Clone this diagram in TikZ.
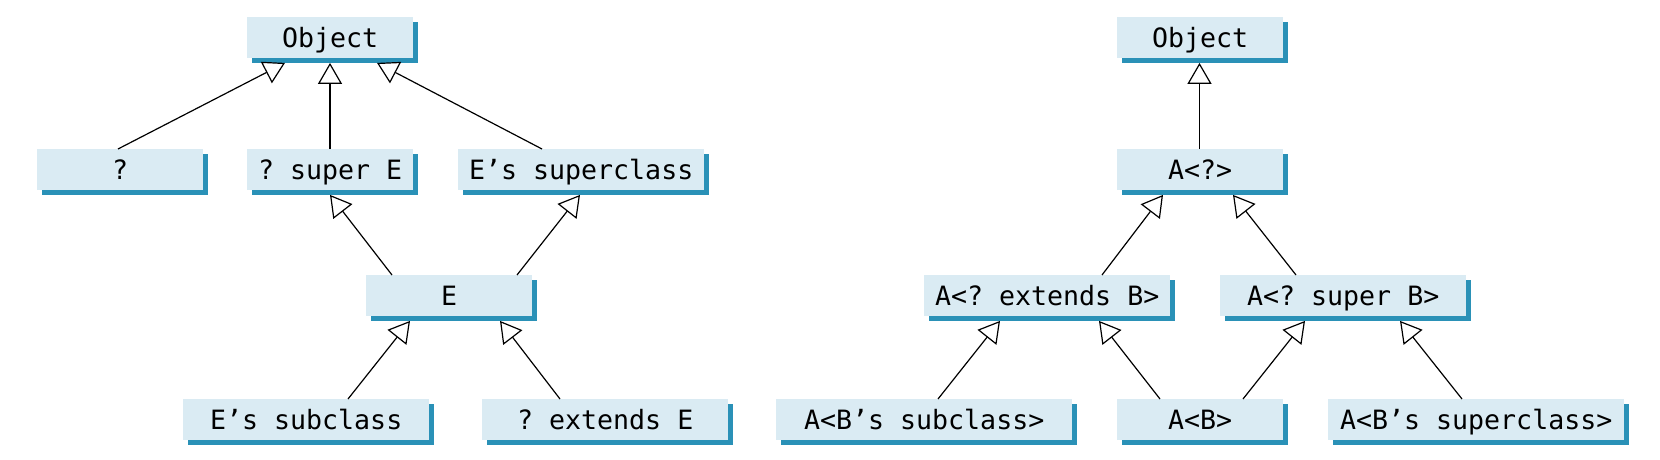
\documentclass[tikz,border=0pt]{standalone}
\usepackage{fontspec}
\setmonofont{DejaVu Sans Mono}
\usetikzlibrary{arrows.meta,shadows}
\definecolor{boxfill}{HTML}{DAEBF3}
\definecolor{shadowc}{HTML}{2A91B7}
\begin{document}
\begin{tikzpicture}[x=1pt,y=-1pt,
  cls/.style={anchor=north west, fill=boxfill, minimum height=41pt, inner sep=0pt,
    text height=20pt, text depth=0pt,
    font=\ttfamily\fontsize{26.6pt}{30pt}\selectfont,
    drop shadow={shadow xshift=4.5pt, shadow yshift=-4.5pt, fill=shadowc, opacity=1}},
  small/.style={cls, minimum width=166pt},
  mid/.style={cls, minimum width=246pt},
  wide/.style={cls, minimum width=296pt},
  inh/.style={draw=black, line width=1.2pt, -{Triangle[length=21pt, width=24pt, fill=white]}}
]
\useasboundingbox (0,0) rectangle (1660,460);
% left tree
\node[small] (objL) at (247,17) {Object};
\node[small] (q) at (37,149) {?};
\node[small] (qsup) at (247,149) {? super E};
\node[mid] (esup) at (458,149) {E’s superclass};
\node[small] (E) at (366,275) {E};
\node[mid] (esub) at (183,399) {E’s subclass};
\node[mid] (qext) at (482,399) {? extends E};
% right tree
\node[small] (objR) at (1117,17) {Object};
\node[small] (Aq) at (1117,149) {A<?>};
\node[mid] (Aext) at (924,275) {A<? extends B>};
\node[mid] (Asup) at (1220,275) {A<? super B>};
\node[wide] (Asub) at (776,399) {A<B’s subclass>};
\node[small] (AB) at (1117,399) {A<B>};
\node[wide] (Asuper) at (1328,399) {A<B’s superclass>};
% connectors left
\draw[inh] ([xshift=81pt]q.north west) -- ([xshift=38pt,yshift=-4.5pt]objL.south west);
\draw[inh] ([xshift=83pt]qsup.north west) -- ([xshift=83pt,yshift=-4.5pt]objL.south west);
\draw[inh] ([xshift=84pt]esup.north west) -- ([xshift=130pt,yshift=-4.5pt]objL.south west);
\draw[inh] ([xshift=26pt]E.north west) -- ([xshift=83pt,yshift=-4.5pt]qsup.south west);
\draw[inh] ([xshift=151pt]E.north west) -- ([xshift=122pt,yshift=-4.5pt]esup.south west);
\draw[inh] ([xshift=165pt]esub.north west) -- ([xshift=44pt,yshift=-4.5pt]E.south west);
\draw[inh] ([xshift=78pt]qext.north west) -- ([xshift=134pt,yshift=-4.5pt]E.south west);
% connectors right
\draw[inh] ([xshift=82.5pt]Aq.north west) -- ([xshift=82.5pt,yshift=-4.5pt]objR.south west);
\draw[inh] ([xshift=178pt]Aext.north west) -- ([xshift=46pt,yshift=-4.5pt]Aq.south west);
\draw[inh] ([xshift=76pt]Asup.north west) -- ([xshift=116pt,yshift=-4.5pt]Aq.south west);
\draw[inh] ([xshift=162pt]Asub.north west) -- ([xshift=76pt,yshift=-4.5pt]Aext.south west);
\draw[inh] ([xshift=43pt]AB.north west) -- ([xshift=175pt,yshift=-4.5pt]Aext.south west);
\draw[inh] ([xshift=126pt]AB.north west) -- ([xshift=85pt,yshift=-4.5pt]Asup.south west);
\draw[inh] ([xshift=134pt]Asuper.north west) -- ([xshift=180pt,yshift=-4.5pt]Asup.south west);
\end{tikzpicture}
\end{document}
